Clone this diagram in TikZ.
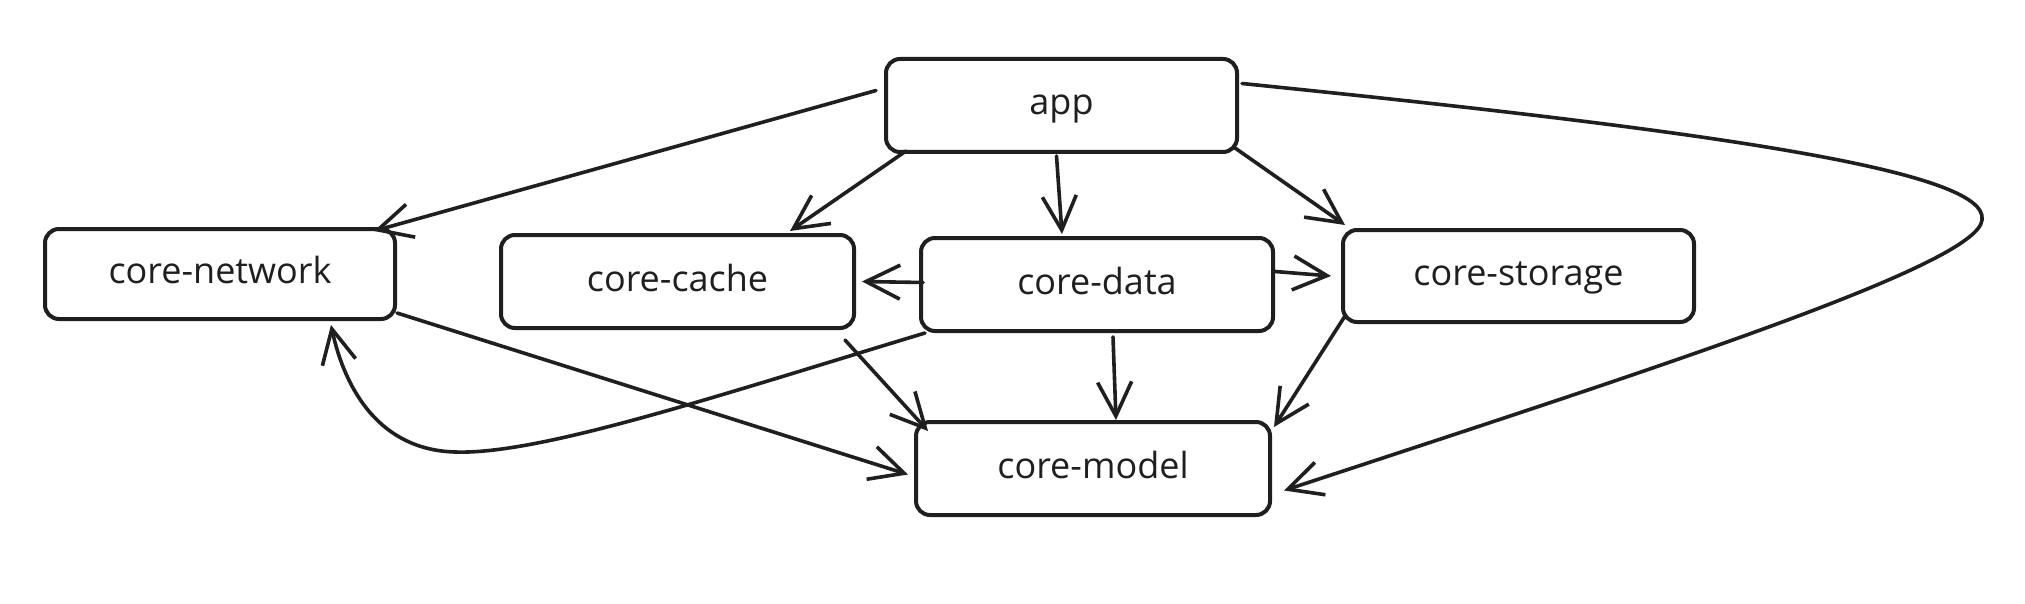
\documentclass[tikz,border=0pt]{standalone}
\usepackage{fontspec}
\setmainfont{Open Sans}
\usetikzlibrary{arrows.meta}
\tikzset{
  mod/.style={draw=black!88, line width=4pt, rounded corners=14pt, fill=white,
    font=\fontsize{36}{40}\selectfont, text=black!88,
    text height=26pt, text depth=7pt},
  dep/.style={draw=black!88, line width=3.6pt, line cap=round,
    -{Straight Barb[length=34pt,width=34pt,line width=3.6pt]}}
}
\begin{document}
\begin{tikzpicture}[x=1pt,y=-1pt]
\useasboundingbox (0,0) rectangle (2025,604);
\node[mod, minimum width=351pt, minimum height=93pt] (app) at (1061.5,105.5) {app};
\node[mod, minimum width=350pt, minimum height=90pt] (net) at (220,274) {core-network};
\node[mod, minimum width=353pt, minimum height=93pt] (cache) at (677.5,281.5) {core-cache};
\node[mod, minimum width=352pt, minimum height=93pt] (data) at (1097,284.5) {core-data};
\node[mod, minimum width=351pt, minimum height=92pt] (stor) at (1518.5,276) {core-storage};
\node[mod, minimum width=354pt, minimum height=93pt] (model) at (1093,468.5) {core-model};

% app dependencies
\draw[dep] ([xshift=-8pt,yshift=15pt]app.west) -- ([xshift=-23pt,yshift=-4pt]net.north east);
\draw[dep] ([xshift=22pt,yshift=3pt]app.south west) -- ([xshift=-66pt,yshift=2pt]cache.north east);
\draw[dep] ([xshift=-5pt,yshift=-2pt]app.south) -- ([xshift=-35pt,yshift=2pt]data.north);
\draw[dep] ([xshift=-4pt,yshift=6pt]app.south east) -- ([xshift=4pt,yshift=3pt]stor.north west);
\draw[dep] ([xshift=3pt,yshift=22pt]app.east)
  .. controls (1700,130) and (1990,170) .. (1982,220)
  .. controls (1978,265) and (1650,370) .. ([xshift=12pt,yshift=-22pt]model.east);

% core-data dependencies
\draw[dep] ([xshift=4pt,yshift=2pt]data.west) -- ([xshift=6pt]cache.east);
\draw[dep] ([yshift=13pt]data.east) -- ([xshift=-10pt]stor.west);
\draw[dep] ([xshift=16pt,yshift=-4pt]data.south) -- ([xshift=23pt]model.north);
\draw[dep] ([xshift=6pt]data.south west)
  .. controls (720,395) and (540,455) .. (455,452)
  .. controls (380,450) and (345,390) .. ([xshift=-66pt,yshift=-4pt]net.south east);

% others
\draw[dep] ([yshift=8pt]net.south east) -- ([xshift=-6pt,yshift=-6pt]model.west);
\draw[dep] ([xshift=-11pt,yshift=-10pt]cache.south east) -- ([xshift=14pt,yshift=-11pt]model.north west);
\draw[dep] ([xshift=4pt,yshift=8pt]stor.south west) -- ([xshift=2pt,yshift=-7pt]model.north east);
\end{tikzpicture}
\end{document}
